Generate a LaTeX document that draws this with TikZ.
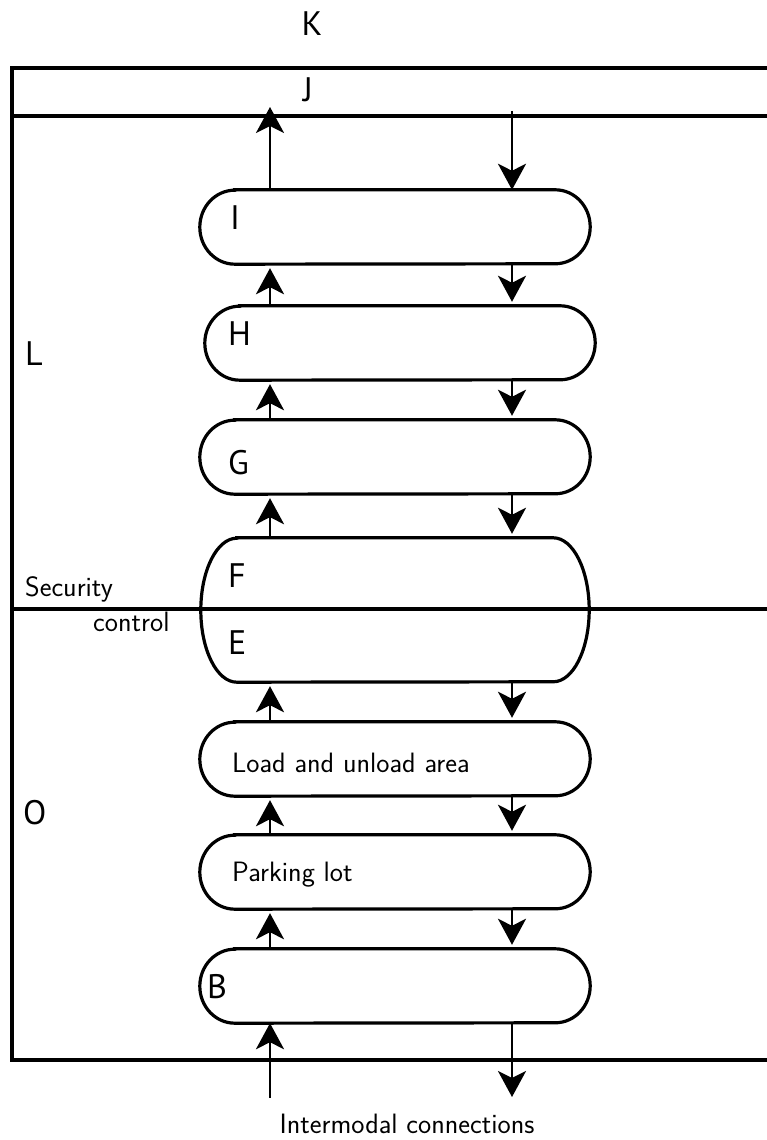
\documentclass[tikz,border=0pt]{standalone}
\usepackage{fontspec}
\usetikzlibrary{arrows.meta,calc}
\newfontfamily\letterfont{PT Sans}

% stadium outline around a named node: #1 node, #2 horizontal end radius, #3 half height
\newcommand\drawstadium[3]{%
  \draw[border] ([xshift=#2]#1.north west) -- ([xshift=-#2]#1.north east)
    arc[start angle=90,end angle=-90,x radius=#2,y radius=#3]
    -- ([xshift=#2]#1.south west)
    arc[start angle=270,end angle=90,x radius=#2,y radius=#3] -- cycle;}

\tikzset{
  frameline/.style={line width=3.2pt},
  border/.style={line width=3.2pt},
  area/.style={rectangle, minimum width=390pt, minimum height=74pt, inner sep=0pt},
  flow/.style={line width=2.9pt, -{Stealth[length=26pt,width=28pt,inset=7pt]}},
  gapped/.style={flow, shorten >=4pt},
  letter/.style={inner sep=0pt, anchor=base west, font=\letterfont\fontsize{34}{38}\selectfont},
  caption/.style={inner sep=0pt, anchor=base west, font=\sffamily\fontsize{28}{32}\selectfont},
}

\begin{document}
\begin{tikzpicture}[x=1pt,y=1pt]
\useasboundingbox (0,0) rectangle (766,1140);

% zone frame
\draw[frameline] (770,1072) -- (12,1072) -- (12,80) -- (770,80);
\draw[frameline] (12,1024) -- (770,1024);
\draw[frameline] (12,531) -- (770,531);

% flow areas
\node[area] (I) at (395,913) {};
\node[area] (H) at (400,797) {};
\node[area] (G) at (395,683) {};
\node[area, minimum width=388pt, minimum height=144pt] (FE) at (395,530) {};
\node[area] (LU) at (395,381) {};
\node[area] (PL) at (395,268) {};
\node[area] (B) at (395,154) {};

\drawstadium{I}{35pt}{37pt}
\drawstadium{H}{35pt}{37pt}
\drawstadium{G}{35pt}{37pt}
\drawstadium{FE}{36pt}{72pt}
\drawstadium{LU}{35pt}{37pt}
\drawstadium{PL}{35pt}{37pt}
\drawstadium{B}{35pt}{37pt}

% columns of the two flows
\coordinate (upx) at (270,0);
\coordinate (dnx) at (512,0);
\coordinate (jout) at (270,1033);
\coordinate (jin) at (512,1029);
\coordinate (extin) at (270,42);
\coordinate (extout) at (512,43);

% outgoing flow (upwards)
\draw[flow] (extin) -- (B.south -| upx);
\draw[gapped] (B.north -| upx) -- (PL.south -| upx);
\draw[gapped] (PL.north -| upx) -- (LU.south -| upx);
\draw[gapped] (LU.north -| upx) -- (FE.south -| upx);
\draw[gapped] (FE.north -| upx) -- (G.south -| upx);
\draw[gapped] (G.north -| upx) -- (H.south -| upx);
\draw[gapped] (H.north -| upx) -- (I.south -| upx);
\draw[flow] (I.north -| upx) -- (jout);

% incoming flow (downwards)
\draw[flow] (jin) -- (I.north -| dnx);
\draw[gapped] (I.south -| dnx) -- (H.north -| dnx);
\draw[gapped] (H.south -| dnx) -- (G.north -| dnx);
\draw[gapped] (G.south -| dnx) -- (FE.north -| dnx);
\draw[gapped] (FE.south -| dnx) -- (LU.north -| dnx);
\draw[gapped] (LU.south -| dnx) -- (PL.north -| dnx);
\draw[gapped] (PL.south -| dnx) -- (B.north -| dnx);
\draw[flow] (B.south -| dnx) -- (extout);

% letters
\node[letter, anchor=base] (tK) at (312,1104) {K};
\node[letter, anchor=base] (tJ) at (308,1038) {J};
\node[letter] (tL) at (25,774) {L};
\node[letter] (tO) at (23,315) {O};
\node[letter] (tI) at (230,910) {I};
\node[letter] (tH) at (228,794) {H};
\node[letter] (tG) at (228,665) {G};
\node[letter] (tF) at (228,552) {F};
\node[letter] (tE) at (228,485) {E};
\node[letter] (tB) at (207,141) {B};

% captions
\node[caption] (tLU) at (232,367) {Load and unload area};
\node[caption] (tPL) at (232,258) {Parking lot};
\node[caption] (tSec) at (25,543) {Security};
\node[caption] (tCtl) at (93,508) {control};
\node[caption, anchor=base] (tIM) at (407,6) {Intermodal connections};
\end{tikzpicture}
\end{document}
